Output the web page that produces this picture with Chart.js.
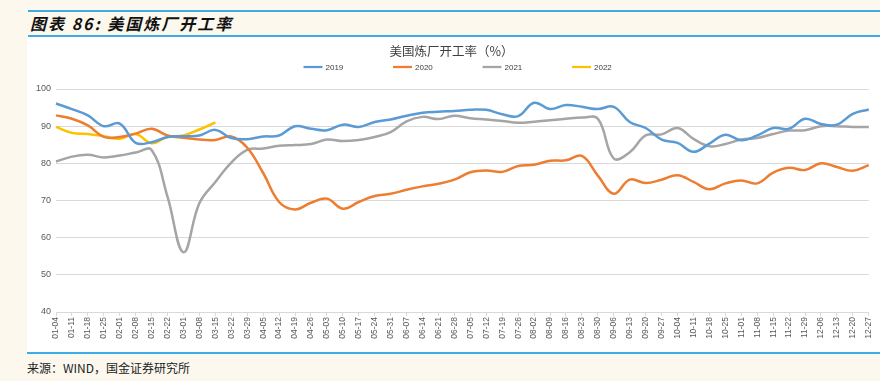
<!DOCTYPE html>
<html>
<head>
<meta charset="utf-8">
<script src="https://cdn.jsdelivr.net/npm/chart.js@4"></script>
<style>
body { margin: 0; width: 880px; height: 381px; overflow: hidden; position: relative; background: #fcf8ee; font-family: "Noto Sans CJK SC", sans-serif; }
#topLine { position: absolute; left: 28px; top: 10px; width: 852px; height: 2px; background: #3aace6; }
#heading { position: absolute; left: 30px; top: 11px; font: italic bold 16px "Noto Sans CJK SC", sans-serif; line-height: 24px; color: #111; letter-spacing: 2px; }
#headLine { position: absolute; left: 28px; top: 35px; width: 852px; height: 2px; background: #3aace6; }
#chartBox { position: absolute; left: 27px; top: 37px; width: 853px; height: 315px; background: #fff; }
#bottomLine { position: absolute; left: 27px; top: 352px; width: 853px; height: 2px; background: #3aace6; }
#source { position: absolute; left: 27px; top: 360px; font-size: 12px; line-height: 16px; color: #222; }
</style>
</head>
<body>
<div id="topLine"></div>
<div id="heading">图表 86: 美国炼厂开工率</div>
<div id="headLine"></div>
<div id="chartBox"><canvas id="chart" width="853" height="315"></canvas></div>
<div id="bottomLine"></div>
<div id="source">来源：WIND，国金证券研究所</div>

<script>
var weeks = ["01-04","01-11","01-18","01-25","02-01","02-08","02-15","02-22","03-01","03-08",
    "03-15","03-22","03-29","04-05","04-12","04-19","04-26","05-03","05-10","05-17",
    "05-24","05-31","06-07","06-14","06-21","06-28","07-05","07-12","07-19","07-26",
    "08-02","08-09","08-16","08-23","08-30","09-06","09-13","09-20","09-27","10-04",
    "10-11","10-18","10-25","11-01","11-08","11-15","11-22","11-29","12-06","12-13",
    "12-20","12-27"];

var rate2019 = [96.1, 94.6, 92.9, 90.0, 90.7, 85.5, 85.7, 87.1, 87.3, 87.5,
    89.0, 86.8, 86.5, 87.2, 87.5, 90.0, 89.3, 88.9, 90.4, 89.8,
    91.1, 91.8, 92.8, 93.6, 93.9, 94.1, 94.4, 94.4, 93.2, 92.7,
    96.3, 94.6, 95.7, 95.2, 94.6, 95.2, 91.1, 89.5, 86.4, 85.5,
    83.1, 85.3, 87.7, 86.2, 87.5, 89.5, 89.3, 92.0, 90.6, 90.4,
    93.3, 94.5];

var rate2020 = [92.9, 92.0, 90.2, 87.1, 87.1, 88.0, 89.3, 87.5, 86.9, 86.4,
    86.3, 87.2, 84.2, 77.4, 69.6, 67.6, 69.4, 70.5, 67.8, 69.6,
    71.2, 71.8, 72.9, 73.8, 74.5, 75.6, 77.6, 78.1, 77.7, 79.3,
    79.6, 80.7, 80.8, 82.0, 76.7, 71.8, 75.6, 74.7, 75.6, 76.8,
    75.0, 73.0, 74.6, 75.4, 74.6, 77.5, 78.8, 78.2, 80.0, 79.0,
    78.0, 79.5];

var rate2021 = [80.5, 81.8, 82.3, 81.6, 82.1, 82.9, 83.6, 71.0, 56.1, 69.3,
    75.0, 80.2, 83.6, 84.0, 84.7, 84.9, 85.2, 86.4, 86.0, 86.3,
    87.1, 88.4, 91.3, 92.5, 91.9, 92.8, 92.1, 91.8, 91.4, 90.9,
    91.2, 91.6, 92.0, 92.3, 92.0, 81.3, 83.0, 87.5, 87.8, 89.5,
    86.6, 84.6, 85.2, 86.4, 86.8, 87.9, 88.8, 88.9, 90.0, 90.0,
    89.8, 89.8];

var rate2022 = [89.8, 88.2, 87.9, 87.3, 86.6, 87.9, 85.4, 87.1, 87.5, 89.1, 91.0];

var seriesNames = ["2019", "2020", "2021", "2022"];
var seriesColors = ["#5b9bd5", "#ed7d31", "#a5a5a5", "#ffc000"];

// legend drawn as a short line + label, spaced like the original
var lineLegend = {
    id: 'lineLegend',
    afterDraw: function(chart) {
        var ctx = chart.ctx;
        var x = chart.width / 2 - 150;
        var y = 30;
        ctx.save();
        ctx.font = '8px "Liberation Sans", Arial, sans-serif';
        ctx.textBaseline = 'middle';
        ctx.textAlign = 'left';
        chart.data.datasets.forEach(function(ds) {
            ctx.strokeStyle = ds.borderColor;
            ctx.lineWidth = 2.25;
            ctx.beginPath();
            ctx.moveTo(x, y);
            ctx.lineTo(x + 19, y);
            ctx.stroke();
            ctx.fillStyle = '#404040';
            ctx.fillText(ds.label, x + 22, y + 0.5);
            x += 89.5;
        });
        ctx.restore();
    }
};

function makeSet(i, values) {
    return {
        label: seriesNames[i],
        data: values,
        borderColor: seriesColors[i],
        backgroundColor: seriesColors[i],
        borderWidth: 2.5,
        pointRadius: 0,
        tension: 0.4,
        fill: false
    };
}

var config = {
    type: 'line',
    data: {
        labels: weeks,
        datasets: [
            makeSet(0, rate2019),
            makeSet(1, rate2020),
            makeSet(2, rate2021),
            makeSet(3, rate2022)
        ]
    },
    options: {
        responsive: false,
        animation: false,
        layout: { padding: { left: 0, right: 4, top: 0, bottom: 0 } },
        plugins: {
            legend: { display: false },
            tooltip: { enabled: false },
            title: {
                display: true,
                text: '美国炼厂开工率（%）',
                color: '#404040',
                font: { family: '"Noto Sans CJK SC", sans-serif', size: 12.5, weight: 'normal' },
                padding: { top: 7, bottom: 30 }
            }
        },
        scales: {
            x: {
                offset: false,
                grid: { display: true, drawOnChartArea: false, drawTicks: true, tickLength: 4, color: '#d9d9d9' },
                border: { display: true, color: '#d9d9d9' },
                ticks: {
                    autoSkip: false,
                    minRotation: 90,
                    maxRotation: 90,
                    padding: 1,
                    color: '#595959',
                    font: { family: '"Liberation Sans", Arial, sans-serif', size: 8.5 }
                },
                afterFit: function(scale) { scale.height = 40; }
            },
            y: {
                min: 40,
                max: 100,
                ticks: {
                    stepSize: 10,
                    padding: 5,
                    color: '#595959',
                    font: { family: '"Liberation Sans", Arial, sans-serif', size: 9 }
                },
                grid: { color: '#d9d9d9', drawTicks: false },
                border: { display: false },
                afterFit: function(scale) { scale.width = 29; }
            }
        }
    },
    plugins: [lineLegend]
};

var ctx = document.getElementById("chart");
window.myChart = new Chart(ctx, config);
</script>
</body>
</html>
